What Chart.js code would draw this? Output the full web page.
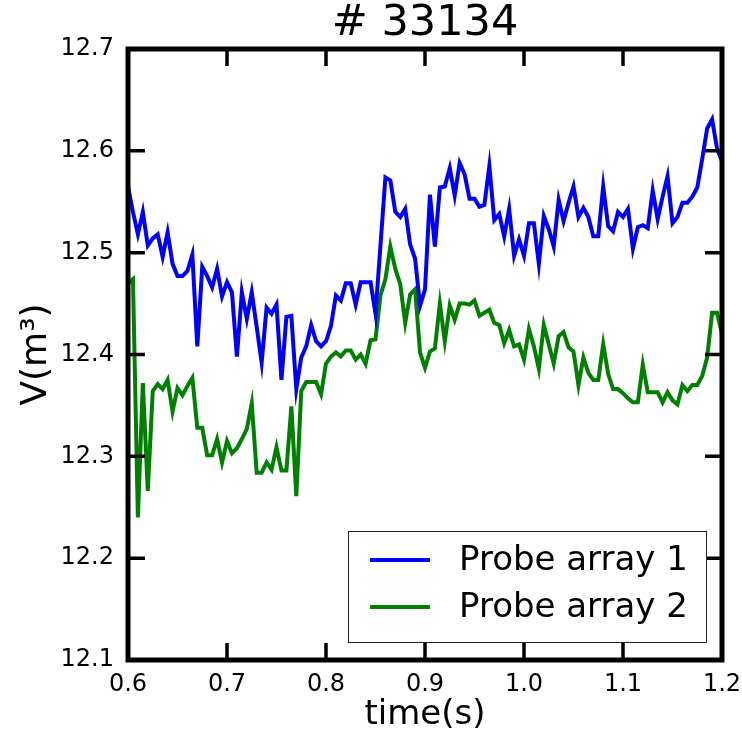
<!DOCTYPE html>
<html>
<head>
<meta charset="utf-8">
<script src="https://cdn.jsdelivr.net/npm/chart.js@4.4.1/dist/chart.umd.min.js"></script>
<style>
  html, body { margin: 0; padding: 0; background: #fff; }
  #wrap { width: 742px; height: 738px; }
</style>
</head>
<body>
<div id="wrap"><canvas id="lineChart"></canvas></div>
<script>
var times = [0.600, 0.605, 0.610, 0.615, 0.620, 0.625, 0.630, 0.635, 0.640, 0.645,
    0.650, 0.655, 0.660, 0.665, 0.670, 0.675, 0.680, 0.685, 0.690, 0.695,
    0.700, 0.705, 0.710, 0.715, 0.720, 0.725, 0.730, 0.735, 0.740, 0.745,
    0.750, 0.755, 0.760, 0.765, 0.770, 0.775, 0.780, 0.785, 0.790, 0.795,
    0.800, 0.805, 0.810, 0.815, 0.820, 0.825, 0.830, 0.835, 0.840, 0.845,
    0.850, 0.855, 0.860, 0.865, 0.870, 0.875, 0.880, 0.885, 0.890, 0.895,
    0.900, 0.905, 0.910, 0.915, 0.920, 0.925, 0.930, 0.935, 0.940, 0.945,
    0.950, 0.955, 0.960, 0.965, 0.970, 0.975, 0.980, 0.985, 0.990, 0.995,
    1.000, 1.005, 1.010, 1.015, 1.020, 1.025, 1.030, 1.035, 1.040, 1.045,
    1.050, 1.055, 1.060, 1.065, 1.070, 1.075, 1.080, 1.085, 1.090, 1.095,
    1.100, 1.105, 1.110, 1.115, 1.120, 1.125, 1.130, 1.135, 1.140, 1.145,
    1.150, 1.155, 1.160, 1.165, 1.170, 1.175, 1.180, 1.185, 1.190, 1.195,
    1.200];

// Probe array 1 (blue)
var probe1 = [12.565, 12.540, 12.518, 12.540, 12.507, 12.514, 12.518, 12.496, 12.520, 12.489,
    12.477, 12.477, 12.482, 12.498, 12.408, 12.486, 12.477, 12.466, 12.484, 12.457,
    12.471, 12.461, 12.398, 12.461, 12.435, 12.461, 12.427, 12.392, 12.446, 12.440,
    12.449, 12.375, 12.437, 12.438, 12.366, 12.397, 12.408, 12.429, 12.413, 12.408,
    12.413, 12.428, 12.458, 12.453, 12.470, 12.470, 12.449, 12.471, 12.471, 12.471,
    12.440, 12.507, 12.574, 12.571, 12.540, 12.535, 12.543, 12.508, 12.494, 12.448,
    12.464, 12.557, 12.506, 12.564, 12.565, 12.583, 12.556, 12.588, 12.577, 12.553,
    12.553, 12.545, 12.547, 12.585, 12.532, 12.538, 12.516, 12.543, 12.497, 12.513,
    12.497, 12.529, 12.529, 12.489, 12.536, 12.523, 12.506, 12.552, 12.531, 12.549,
    12.565, 12.535, 12.544, 12.535, 12.516, 12.516, 12.565, 12.526, 12.521, 12.540,
    12.535, 12.543, 12.504, 12.525, 12.527, 12.524, 12.561, 12.533, 12.555, 12.575,
    12.529, 12.535, 12.549, 12.549, 12.555, 12.564, 12.592, 12.622, 12.631, 12.602,
    12.590];

// Probe array 2 (green)
var probe2 = [12.470, 12.474, 12.240, 12.372, 12.266, 12.364, 12.371, 12.366, 12.375, 12.344,
    12.367, 12.360, 12.369, 12.377, 12.328, 12.328, 12.301, 12.301, 12.317, 12.294,
    12.315, 12.303, 12.308, 12.317, 12.327, 12.352, 12.284, 12.284, 12.294, 12.287,
    12.309, 12.286, 12.286, 12.349, 12.261, 12.364, 12.373, 12.373, 12.373, 12.361,
    12.391, 12.398, 12.402, 12.398, 12.404, 12.404, 12.395, 12.400, 12.391, 12.414,
    12.415, 12.458, 12.474, 12.506, 12.484, 12.469, 12.431, 12.459, 12.464, 12.402,
    12.387, 12.403, 12.406, 12.450, 12.413, 12.448, 12.434, 12.450, 12.450, 12.449,
    12.453, 12.438, 12.441, 12.444, 12.431, 12.429, 12.411, 12.424, 12.408, 12.410,
    12.395, 12.425, 12.408, 12.386, 12.429, 12.410, 12.391, 12.418, 12.422, 12.407,
    12.403, 12.370, 12.397, 12.382, 12.375, 12.375, 12.410, 12.381, 12.366, 12.366,
    12.362, 12.357, 12.353, 12.353, 12.390, 12.363, 12.363, 12.363, 12.353, 12.363,
    12.355, 12.351, 12.370, 12.364, 12.370, 12.370, 12.379, 12.397, 12.441, 12.441,
    12.420];

var xTicks = [0.6, 0.7, 0.8, 0.9, 1.0, 1.1, 1.2];
var xTickLabels = ['0.6', '0.7', '0.8', '0.9', '1.0', '1.1', '1.2'];
var yTicks = [12.1, 12.2, 12.3, 12.4, 12.5, 12.6, 12.7];
var yTickLabels = ['12.1', '12.2', '12.3', '12.4', '12.5', '12.6', '12.7'];
var seriesNames = ['Probe array 1', 'Probe array 2'];

function toPoints(vals) {
    return vals.map(function (v, i) { return { x: times[i], y: v }; });
}

// matplotlib-like frame, inward ticks and legend box
var framePlugin = {
    id: 'frame',
    afterDatasetsDraw: function (chart) {
        var ctx = chart.ctx, a = chart.chartArea;
        var xs = chart.scales.x, ys = chart.scales.y;
        ctx.save();
        ctx.strokeStyle = '#000';
        ctx.lineWidth = 3.5;
        ctx.beginPath();
        xTicks.forEach(function (v) {
            var px = xs.getPixelForValue(v);
            ctx.moveTo(px, a.bottom); ctx.lineTo(px, a.bottom - 17);
            ctx.moveTo(px, a.top); ctx.lineTo(px, a.top + 17);
        });
        yTicks.forEach(function (v) {
            var py = ys.getPixelForValue(v);
            ctx.moveTo(a.left, py); ctx.lineTo(a.left + 17, py);
            ctx.moveTo(a.right, py); ctx.lineTo(a.right - 17, py);
        });
        ctx.stroke();
        ctx.lineWidth = 5;
        ctx.strokeRect(a.left, a.top, a.right - a.left, a.bottom - a.top);

        // legend, lower right inside the axes
        var bw = 358, bh = 111;
        var bx = a.right - 16 - bw, by = a.bottom - 18 - bh;
        ctx.fillStyle = '#fff';
        ctx.fillRect(bx, by, bw, bh);
        ctx.lineWidth = 1;
        ctx.strokeStyle = '#222';
        ctx.strokeRect(bx + 0.5, by + 0.5, bw, bh);
        ctx.font = '34px "DejaVu Sans"';
        ctx.textBaseline = 'middle';
        chart.data.datasets.forEach(function (ds, i) {
            var ly = by + 29 + i * 47;
            ctx.strokeStyle = ds.borderColor;
            ctx.lineWidth = ds.borderWidth;
            ctx.beginPath();
            ctx.moveTo(bx + 22, ly); ctx.lineTo(bx + 82, ly);
            ctx.stroke();
            ctx.fillStyle = '#000';
            ctx.fillText(ds.label, bx + 111, ly + 1);
        });
        ctx.restore();
    }
};

var ctx = document.getElementById('lineChart').getContext('2d');
var myChart = new Chart(ctx, {
    type: 'line',
    data: {
        datasets: [
            {
                label: seriesNames[0],
                data: toPoints(probe1),
                borderColor: '#0000ff',
                backgroundColor: '#0000ff',
                borderWidth: 4,
                pointRadius: 0,
                tension: 0
            },
            {
                label: seriesNames[1],
                data: toPoints(probe2),
                borderColor: '#008000',
                backgroundColor: '#008000',
                borderWidth: 4,
                pointRadius: 0,
                tension: 0
            }
        ]
    },
    options: {
        responsive: true,
        maintainAspectRatio: false,
        animation: false,
        layout: { padding: { left: 0, right: 20, top: 0, bottom: 0 } },
        plugins: {
            legend: { display: false },
            tooltip: { enabled: false },
            title: {
                display: true,
                text: '# 33134',
                fullSize: false,
                color: '#000',
                font: { family: 'DejaVu Sans', size: 43, lineHeight: 1.0, weight: 'normal' },
                padding: { top: 2, bottom: 4 }
            }
        },
        scales: {
            x: {
                type: 'linear',
                min: 0.6,
                max: 1.2,
                grid: { display: false, drawTicks: false },
                border: { display: false },
                afterBuildTicks: function (s) { s.ticks = xTicks.map(function (v) { return { value: v }; }); },
                afterFit: function (s) { s.height = 78; s.paddingLeft = 0; s.paddingRight = 0; },
                ticks: {
                    color: '#000',
                    padding: 10,
                    maxRotation: 0,
                    font: { family: 'DejaVu Sans', size: 24 },
                    callback: function (v) { return xTickLabels[xTicks.indexOf(Math.round(v * 10) / 10)]; }
                },
                title: {
                    display: true,
                    text: 'time(s)',
                    color: '#000',
                    font: { family: 'DejaVu Sans', size: 34 },
                    padding: { top: 0, bottom: 2 }
                }
            },
            y: {
                type: 'linear',
                min: 12.1,
                max: 12.7,
                grid: { display: false, drawTicks: false },
                border: { display: false },
                afterBuildTicks: function (s) { s.ticks = yTicks.map(function (v) { return { value: v }; }); },
                afterFit: function (s) { s.width = 128; s.paddingTop = 0; s.paddingBottom = 0; },
                ticks: {
                    color: '#000',
                    padding: 14,
                    font: { family: 'DejaVu Sans', size: 24 },
                    callback: function (v) { return yTickLabels[yTicks.indexOf(Math.round(v * 10) / 10)]; }
                },
                title: {
                    display: true,
                    text: 'V(m³)',
                    color: '#000',
                    font: { family: 'DejaVu Sans', size: 36 },
                    padding: { top: 15, bottom: 0 }
                }
            }
        }
    },
    plugins: [framePlugin]
});
</script>
</body>
</html>
